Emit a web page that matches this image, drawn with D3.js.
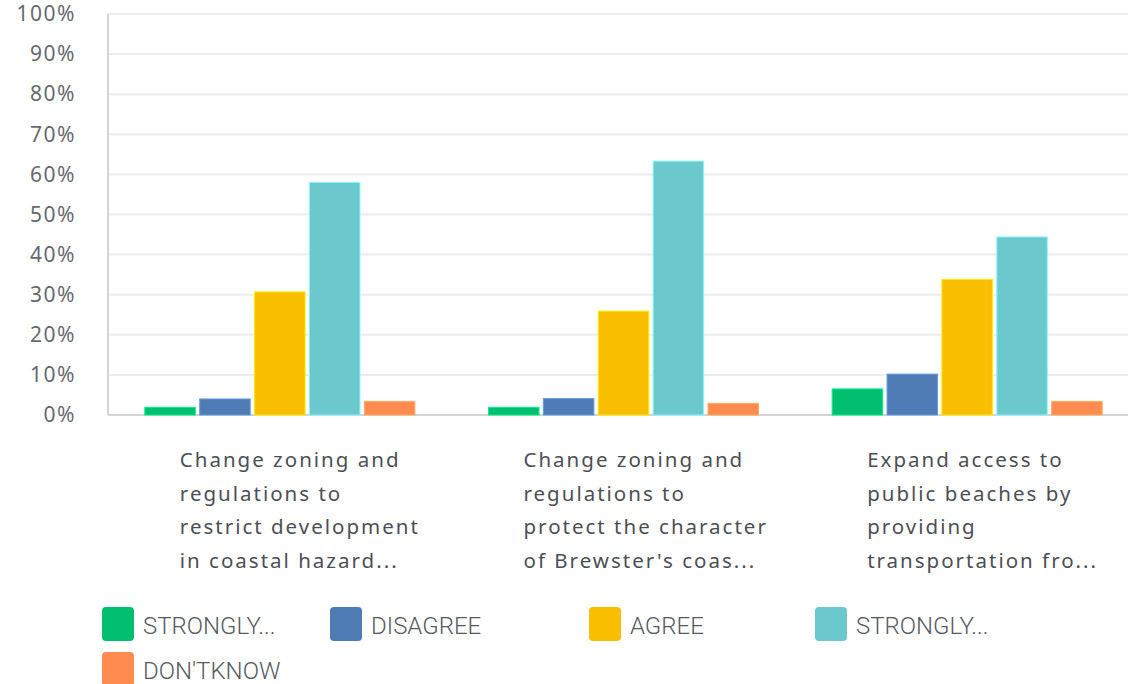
<!DOCTYPE html>
<html>
<head>
<meta charset="utf-8">
<script src="https://cdn.jsdelivr.net/npm/d3@7"></script>
<style>
  body { margin: 0; background: #fff; }
  svg { display: block; }
</style>
</head>
<body>
<div id="chart"></div>
<script>
const questions = [
    ["Change zoning and", "regulations to", "restrict development", "in coastal hazard..."],
    ["Change zoning and", "regulations to", "protect the character", "of Brewster's coas..."],
    ["Expand access to", "public beaches by", "providing", "transportation fro..."]
];
const seriesNames = ["STRONGLY...", "DISAGREE", "AGREE", "STRONGLY...", "DON'TKNOW"];
const seriesColors = ["#00bf6f", "#507cb6", "#f9be00", "#6bc8cd", "#ff8b4f"];

// percent values per series, one per question
const stronglyDisagree = [1.9, 1.9, 6.5];
const disagree = [4.0, 4.1, 10.2];
const agree = [30.7, 25.9, 33.8];
const stronglyAgree = [58.0, 63.3, 44.4];
const dontKnow = [3.4, 2.9, 3.4];
const seriesValues = [stronglyDisagree, disagree, agree, stronglyAgree, dontKnow];

const yTicks = [0, 10, 20, 30, 40, 50, 60, 70, 80, 90, 100];

const W = 1128, H = 684;
const plot = { left: 108, right: 1139, top: 14, bottom: 415 };

const svg = d3.select("#chart")
    .append("svg")
    .attr("width", W)
    .attr("height", H);

const x = d3.scaleBand()
    .domain(d3.range(questions.length))
    .range([plot.left, plot.right]);

const xInner = d3.scaleBand()
    .domain(d3.range(seriesNames.length))
    .range([x.bandwidth() / 2 - 135, x.bandwidth() / 2 + 135])
    .paddingInner(0.08);

const y = d3.scaleLinear()
    .domain([0, 100])
    .range([plot.bottom, plot.top]);

// gridlines
svg.append("g")
    .selectAll("line")
    .data(yTicks.filter(d => d > 0))
    .enter()
    .append("line")
    .attr("x1", plot.left)
    .attr("x2", W)
    .attr("y1", d => y(d))
    .attr("y2", d => y(d))
    .attr("stroke", "#ececec")
    .attr("stroke-width", 2);

// y axis labels
const yAxis = svg.append("g")
    .attr("transform", `translate(${plot.left},0)`)
    .call(d3.axisLeft(y).tickValues(yTicks).tickFormat(d => d + "%").tickSize(0).tickPadding(32));
yAxis.select(".domain").remove();
yAxis.selectAll("text")
    .style("font-family", "'Noto Sans', sans-serif")
    .style("font-size", "21px")
    .style("letter-spacing", "1.5px")
    .style("fill", "#666a6e");

// axis lines
svg.append("line")
    .attr("x1", plot.left).attr("x2", plot.left)
    .attr("y1", plot.top).attr("y2", plot.bottom)
    .attr("stroke", "#d4d4d4").attr("stroke-width", 2);
svg.append("line")
    .attr("x1", plot.left).attr("x2", W)
    .attr("y1", plot.bottom).attr("y2", plot.bottom)
    .attr("stroke", "#d4d4d4").attr("stroke-width", 2);

// bars
const groups = svg.append("g")
    .selectAll("g")
    .data(questions)
    .enter()
    .append("g")
    .attr("transform", (d, i) => `translate(${x(i)},0)`);

groups.selectAll("rect")
    .data((d, qi) => seriesValues.map((vals, si) => ({ si, v: vals[qi] })))
    .enter()
    .append("rect")
    .attr("x", d => xInner(d.si))
    .attr("width", xInner.bandwidth())
    .attr("y", d => y(d.v))
    .attr("height", d => y(0) - y(d.v))
    .attr("fill", d => seriesColors[d.si])
    .attr("stroke", d => d3.color(seriesColors[d.si]).brighter(0.6))
    .attr("stroke-width", 1);

// category labels
groups.append("text")
    .attr("x", x.bandwidth() / 2 - 100)
    .attr("y", 467)
    .style("font-family", "'Noto Sans', sans-serif")
    .style("font-size", "20.5px")
    .style("letter-spacing", "2px")
    .style("fill", "#4b4f54")
    .selectAll("tspan")
    .data(d => d)
    .enter()
    .append("tspan")
    .attr("x", x.bandwidth() / 2 - 100)
    .attr("dy", (d, i) => i === 0 ? 0 : 33.5)
    .text(d => d);

// legend
const legendX = [102, 330, 589, 815, 102];
const legendY = [607, 607, 607, 607, 652];
const legend = svg.append("g")
    .selectAll("g")
    .data(seriesNames)
    .enter()
    .append("g")
    .attr("transform", (d, i) => `translate(${legendX[i]},${legendY[i]})`);

legend.append("rect")
    .attr("width", 32)
    .attr("height", 34)
    .attr("rx", 4)
    .attr("fill", (d, i) => seriesColors[i]);

legend.append("text")
    .attr("x", 41)
    .attr("y", 27)
    .style("font-family", "Roboto, sans-serif")
    .style("font-weight", 300)
    .style("font-size", "24px")
    .style("fill", "#555a60")
    .text(d => d);
</script>
</body>
</html>
